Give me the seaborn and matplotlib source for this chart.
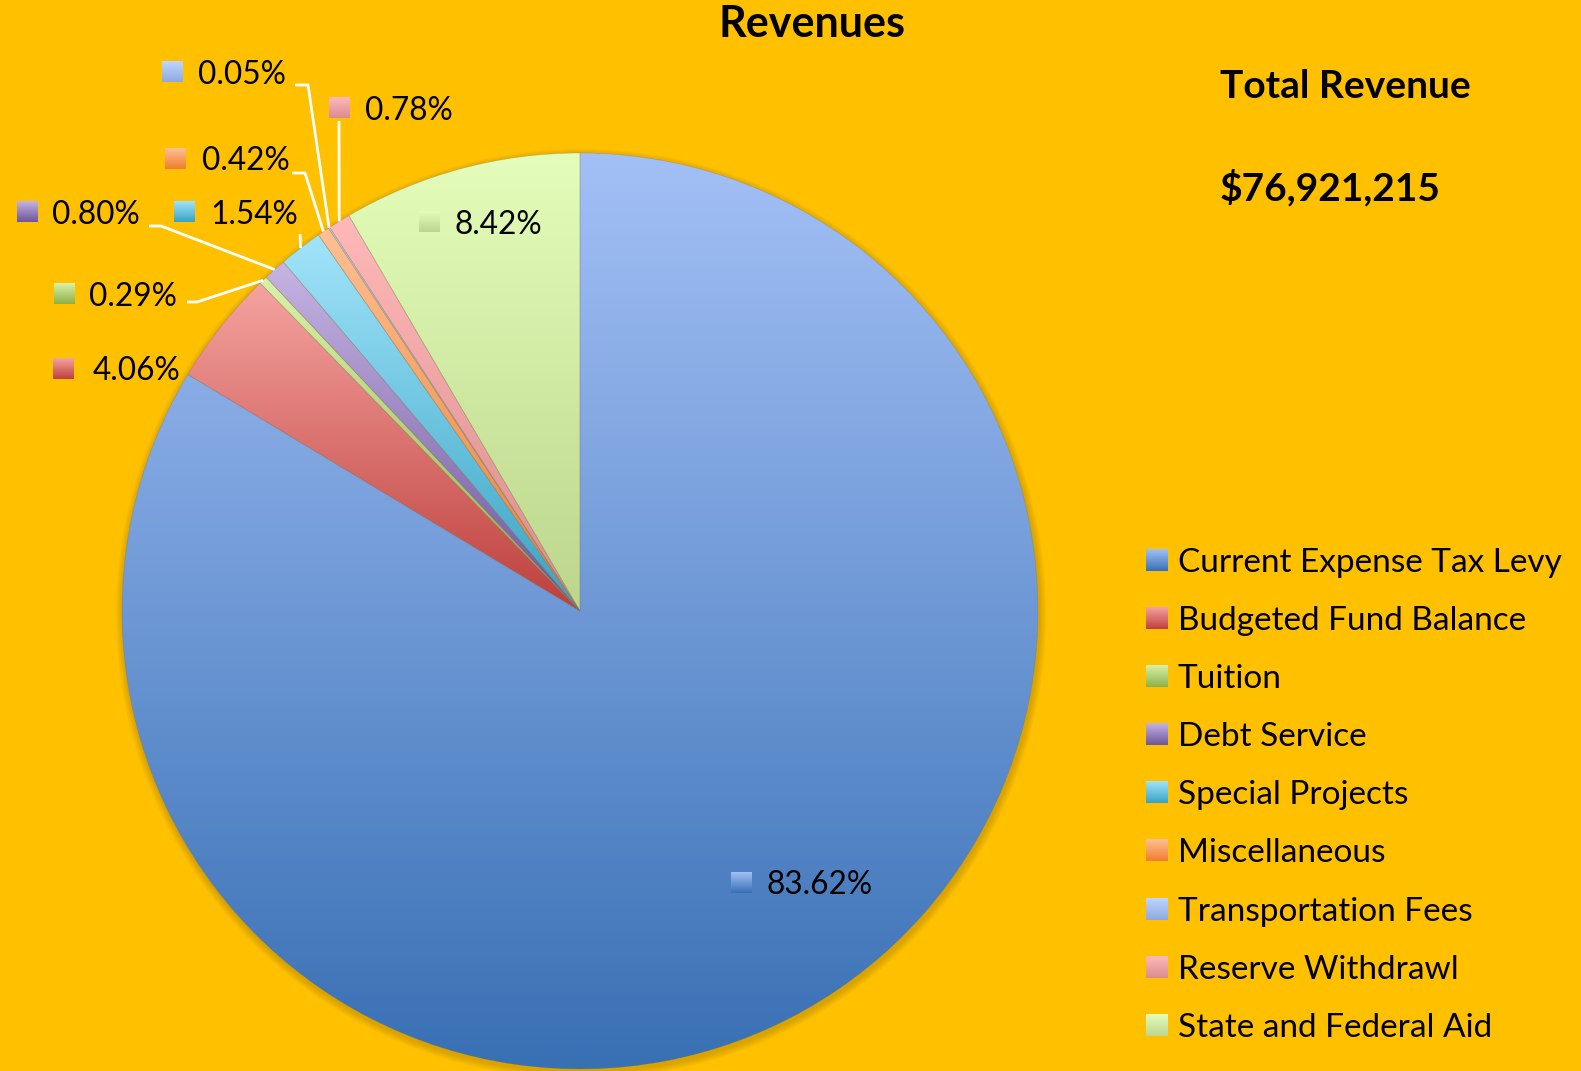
import numpy as np
import matplotlib
matplotlib.use("Agg")
import matplotlib.pyplot as plt
import seaborn as sns
from matplotlib.patches import Circle

# data
categories = ["Current Expense Tax Levy", "Budgeted Fund Balance", "Tuition",
              "Debt Service", "Special Projects", "Miscellaneous",
              "Transportation Fees", "Reserve Withdrawl", "State and Federal Aid"]
shares = [83.62, 4.06, 0.29, 0.80, 1.54, 0.42, 0.05, 0.78, 8.42]
total_revenue = "$76,921,215"

# gradient colours per slice (top, bottom)
top_colors = ["#A3C0F6", "#F5A3A0", "#DAF2A8", "#C6B4E2", "#A2E4FA",
              "#FFC094", "#C0D6FF", "#FFB9B9", "#E4FDBA"]
bottom_colors = ["#3870B4", "#BE3F3C", "#8DB048", "#6D549E", "#37A3C4",
                 "#F07E2C", "#8EA9E0", "#DA8C8C", "#BDD68C"]

# label layout (pixel coords): marker centre x, centre y, text left
label_pos = [(741, 883, 767), (63, 369, 93), (64, 294, 89), (27, 212, 52),
             (184, 212, 210), (175, 159, 202), (172, 72, 198), (339, 108, 365),
             (429, 222, 454)]
# leader lines (elbow points, the edge point comes from the wedge)
leaders = {2: [(187, 302), (197, 302)], 3: [(149, 226), (161, 226)],
           4: [(300, 234)], 5: [(292, 173), (305, 173)],
           6: [(295, 85), (308, 85)], 7: [(339, 121)]}

W, H = 1581, 1071
BG = "#FFC000"

sns.set_theme(style="white")
plt.rcParams["font.family"] = ["Lato", "DejaVu Sans"]

fig = plt.figure(figsize=(W / 100, H / 100), dpi=100, facecolor=BG)
ax = fig.add_axes([0, 0, 1, 1])
ax.set_facecolor(BG)


def Y(py):
    return H - py


def grad_box(ax, x0, x1, y0, y1, c_top, c_bot, clip=None, z=2):
    cmap = sns.blend_palette([c_top, c_bot], as_cmap=True)
    g = np.linspace(0, 1, 256).reshape(-1, 1)
    im = ax.imshow(g, extent=[x0, x1, y0, y1], origin="upper", cmap=cmap,
                   aspect="auto", zorder=z, interpolation="bilinear")
    if clip is not None:
        im.set_clip_path(clip)
    return im


cx, cy, R = 580, Y(611), 458

# soft shadow under the pie
for k in range(6):
    ax.add_patch(Circle((cx + 1, cy - 3), R + 1 + k * 1.2, color="#8a6a00",
                        alpha=0.06, lw=0, zorder=0.5))

wedges, _ = ax.pie(shares, startangle=90, counterclock=False, center=(cx, cy),
                   radius=R,
                   wedgeprops=dict(linewidth=0.5, edgecolor=(0.45, 0.45, 0.45, 0.3)))

for w, ct, cb in zip(wedges, top_colors, bottom_colors):
    v = w.get_path().vertices
    w.set_facecolor("none")
    w.set_zorder(3)
    grad_box(ax, v[:, 0].min(), v[:, 0].max(), v[:, 1].min(), v[:, 1].max(),
             ct, cb, clip=w, z=2)

# data labels
ms = 10.5
for i, (w, share) in enumerate(zip(wedges, shares)):
    mx, my, tx = label_pos[i]
    grad_box(ax, mx - ms, mx + ms, Y(my + ms), Y(my - ms),
             top_colors[i], bottom_colors[i], z=5)
    ax.text(tx, Y(my + 11.5), f"{share:.2f}%", fontsize=22.8, color="black",
            va="baseline", ha="left", zorder=6)
    if i in leaders:
        mid = np.deg2rad((w.theta1 + w.theta2) / 2)
        ex, ey = w.center[0] + w.r * np.cos(mid), w.center[1] + w.r * np.sin(mid)
        pts = [(x, Y(y)) for x, y in leaders[i]] + [(ex, ey)]
        ax.plot([p[0] for p in pts], [p[1] for p in pts], color="white",
                lw=2, zorder=4, solid_capstyle="butt")

# titles
ax.text(812, Y(37), "Revenues", fontsize=31, fontweight="bold", ha="center",
        va="baseline", color="black")
ax.text(1220, Y(98), "Total Revenue", fontsize=28, fontweight="bold",
        ha="left", va="baseline", color="black")
ax.text(1220, Y(200), total_revenue, fontsize=28, fontweight="bold",
        ha="left", va="baseline", color="black")

# legend
for i, name in enumerate(categories):
    ly = 560 + i * 58.1
    grad_box(ax, 1146, 1168, Y(ly + 11), Y(ly - 11),
             top_colors[i], bottom_colors[i], z=5)
    ax.text(1178, Y(ly + 12), name, fontsize=24, ha="left", va="baseline",
            color="black")

ax.set_xlim(0, W)
ax.set_ylim(0, H)
ax.set_aspect("auto")
ax.axis("off")

fig.savefig("out.png", dpi=100, facecolor=BG)
